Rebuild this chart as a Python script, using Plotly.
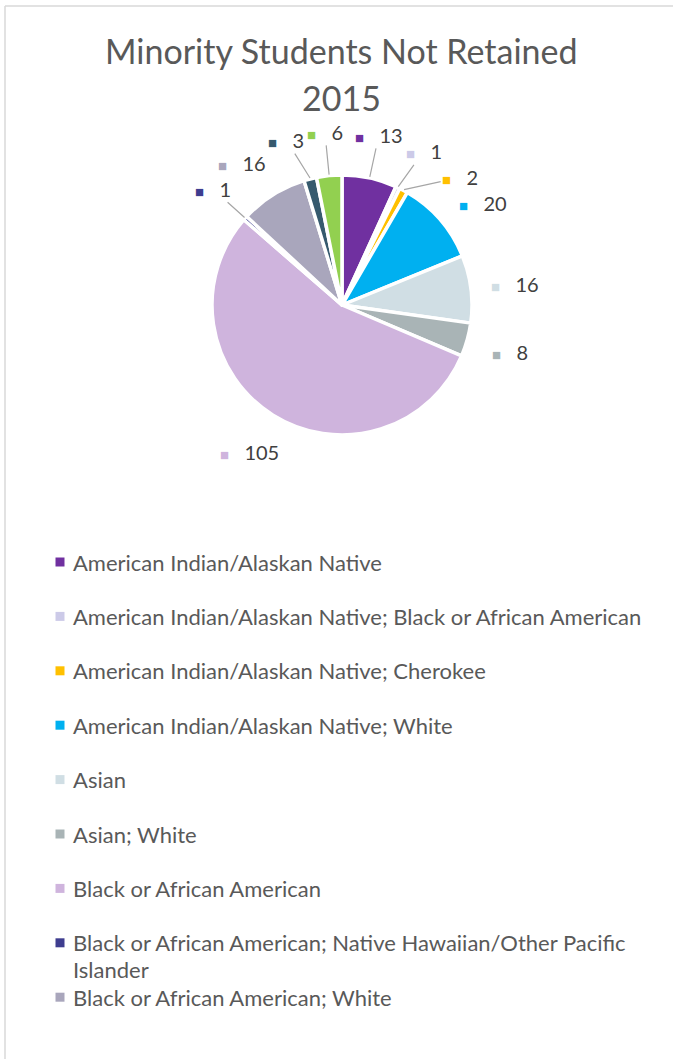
import math
import plotly.graph_objects as go

# ---------------- data ----------------
title_lines = ["Minority Students Not Retained", "2015"]
categories = [
    "American Indian/Alaskan Native",
    "American Indian/Alaskan Native; Black or African American",
    "American Indian/Alaskan Native; Cherokee",
    "American Indian/Alaskan Native; White",
    "Asian",
    "Asian; White",
    "Black or African American",
    "Black or African American; Native Hawaiian/Other Pacific Islander",
    "Black or African American; White",
    "Native Hawaiian/Other Pacific Islander",
    "Native Hawaiian/Other Pacific Islander; White",
]
values = [13, 1, 2, 20, 16, 8, 105, 1, 16, 3, 6]
colors = ["#7030A0", "#CCCAE8", "#FFC000", "#00B0F0", "#D0DEE4", "#A9B4B6",
          "#CFB4DD", "#3E3D8F", "#A9A6BC", "#365A6E", "#92D050"]
leader = [True, True, True, False, False, False, False, True, False, True, True]
legend_shown = 9  # the legend in the original is cut off after 9 entries
legend_wrap = {7: ["Black or African American; Native Hawaiian/Other Pacific", "Islander"]}

# ---------------- layout constants ----------------
W, H = 673, 1059
CX, CY, R = 342, 305, 130
LABEL_R = 174
FONT = "Lato"
TXT = "#595959"

def px(x):
    return x / W

def py(y):
    return 1 - y / H

fig = go.Figure()
fig.add_trace(go.Pie(
    labels=categories, values=values, sort=False, direction="clockwise",
    rotation=0, textinfo="none", hoverinfo="label+value",
    marker=dict(colors=colors, line=dict(color="white", width=3.5)),
    domain=dict(x=[px(CX - R), px(CX + R)], y=[py(CY + R), py(CY - R)]),
    showlegend=False,
))

annotations = []
shapes = []

# title
for i, t in enumerate(title_lines):
    annotations.append(dict(text=t, x=px(341), y=py(51 + 46 * i), xref="paper", yref="paper",
                            showarrow=False, xanchor="center", yanchor="middle",
                            font=dict(family=FONT, size=34, color=TXT)))

# data labels computed from slice mid-angles, nudged apart so they don't collide
total = sum(values)
mids = []
cum = 0
for v in values:
    mids.append(360 * (cum + v / 2) / total)
    cum += v
lab_ang = list(mids)

def lab_pos(i):
    a = math.radians(lab_ang[i])
    return CX + LABEL_R * math.sin(a), CY - LABEL_R * math.cos(a)

def lab_box(i):
    cx, cy = lab_pos(i)
    w = 23.1 + 11.6 * len(str(values[i]))
    return cx - w / 2, cx + w / 2, cy - 11, cy + 11

def overlap(a, b, pad=3):
    return not (a[1] + pad <= b[0] or b[1] + pad <= a[0] or a[3] + pad <= b[2] or b[3] + pad <= a[2])

right = [i for i, a in enumerate(mids) if a < 180]
left = [i for i, a in enumerate(mids) if a >= 180]
for k in range(1, len(right)):
    j, p = right[k], right[k - 1]
    while overlap(lab_box(j), lab_box(p)):
        lab_ang[j] += 0.5
for k in range(len(left) - 2, -1, -1):
    j, p = left[k], left[k + 1]
    while overlap(lab_box(j), lab_box(p)):
        lab_ang[j] -= 0.5

for i, (v, c) in enumerate(zip(values, colors)):
    lx, ly = lab_pos(i)
    text = f"<span style='color:{c};font-size:15px'>■</span>   {v}"
    font = dict(family=FONT, size=20, color="#404040")
    if leader[i]:
        m = math.radians(mids[i])
        ex = CX + (R + 1) * math.sin(m)
        ey = CY - (R + 1) * math.cos(m)
        annotations.append(dict(text=text, x=px(ex), y=py(ey), xref="paper", yref="paper",
                                showarrow=True, ax=lx - ex, ay=ly - ey, arrowhead=0,
                                arrowwidth=1.2, arrowcolor="#A6A6A6", standoff=0,
                                startstandoff=0, font=font))
    else:
        annotations.append(dict(text=text, x=px(lx), y=py(ly), xref="paper", yref="paper",
                                showarrow=False, xanchor="center", yanchor="middle", font=font))

# legend
LEG_Y0, LEG_DY, LINE_H = 562, 54.4, 27
for i in range(legend_shown):
    y = LEG_Y0 + LEG_DY * i
    shapes.append(dict(type="rect", xref="paper", yref="paper",
                       x0=px(55.5), x1=px(64.5), y0=py(y - 4.5), y1=py(y + 4.5),
                       fillcolor=colors[i], line=dict(width=0)))
    lines = legend_wrap.get(i, [categories[i]])
    for k, ln in enumerate(lines):
        annotations.append(dict(text=ln, x=px(71), y=py(y + LINE_H * k), xref="paper", yref="paper",
                                showarrow=False, xanchor="left", yanchor="middle",
                                font=dict(family=FONT, size=22, color=TXT)))

# chart border (partially visible)
shapes.append(dict(type="line", xref="paper", yref="paper", x0=px(5), x1=1, y0=py(6), y1=py(6),
                   line=dict(color="#D9D9D9", width=1.5)))
shapes.append(dict(type="line", xref="paper", yref="paper", x0=px(5), x1=px(5), y0=py(6), y1=0,
                   line=dict(color="#D9D9D9", width=1.5)))

fig.update_layout(
    width=W, height=H, margin=dict(l=0, r=0, t=0, b=0),
    paper_bgcolor="white", plot_bgcolor="white",
    annotations=annotations, shapes=shapes, showlegend=False,
)
fig.write_html("out.html", config={"displayModeBar": False},
               post_script="document.body.style.margin='0';document.body.style.overflow='hidden';")
